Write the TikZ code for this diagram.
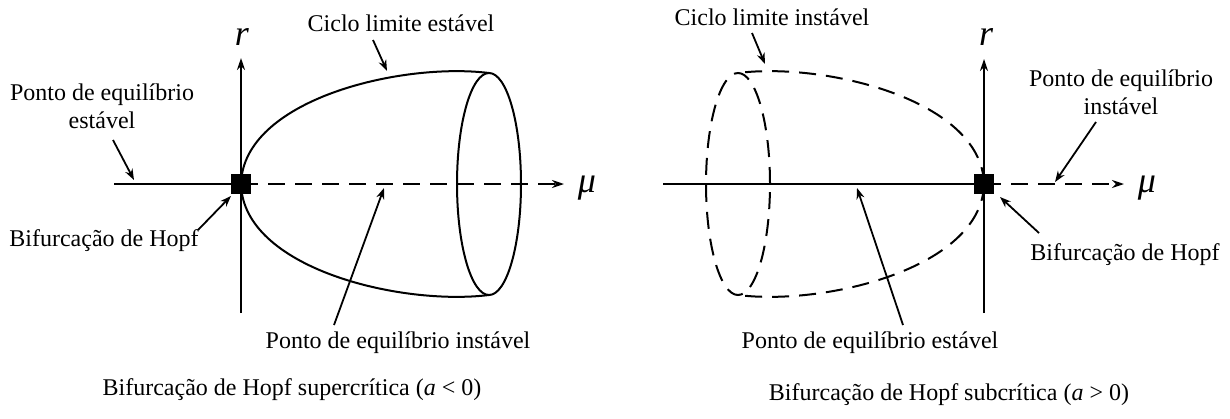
\documentclass[tikz,border=0pt]{standalone}
\usepackage{fontspec}
\setmainfont{Liberation Serif}
\usetikzlibrary{arrows.meta}
\begin{document}
\begin{tikzpicture}[x=1pt,y=-1pt,
  lbl/.style={font=\fontsize{24}{28}\selectfont, inner sep=0pt, align=center},
  axlbl/.style={font=\fontsize{36}{36}\selectfont\itshape, inner sep=0pt},
  ax/.style={line width=2pt, -{Stealth[length=12pt,width=8pt]}},
  ln/.style={line width=2pt},
  dsh/.style={line width=2pt, dash pattern=on 17pt off 10pt},
  ptr/.style={line width=1.8pt, -{Stealth[length=11pt,width=8pt]}},
  eq/.style={fill=black, minimum size=20pt, inner sep=0pt}]
\useasboundingbox (0,0) rectangle (1230,418);

% ---------------- Left: supercritical ----------------
\coordinate (L0) at (241,184);
\coordinate (Lrb) at (241,313);
\coordinate (Lrt) at (241,58);
\coordinate (Lml) at (114,184);
\coordinate (Lmr) at (564,184);
\coordinate (Ltop) at (489,73);
\coordinate (Lbot) at (489,295);

\draw[ax] (Lrb) -- (Lrt);
\draw[ln] (Lml) -- (L0);
\draw[dsh,-{Stealth[length=12pt,width=8pt]}] (L0) -- (Lmr);
\draw[ln] (L0) .. controls (243,100) and (400,62) .. (Ltop);
\draw[ln] (L0) .. controls (243,268) and (400,306) .. (Lbot);
\draw[ln] (489,184) ellipse [x radius=32pt, y radius=111pt];
\node[eq] (s1) at (L0) {};

\node[axlbl] (lr) at (242,37) {r};
\node[axlbl] (lmu) at (587,188) {μ};

\node[lbl] (lciclo) at (401,23) {Ciclo limite estável};
\coordinate (lciclot) at (373,40);
\coordinate (lcicloh) at (387,71);
\draw[ptr] (lciclot) -- (lcicloh);

\node[lbl] (lpe) at (102,106) {Ponto de equilíbrio\\estável};
\coordinate (lpet) at (113,140);
\coordinate (lpeh) at (134,180);
\draw[ptr] (lpet) -- (lpeh);

\node[lbl] (lbif) at (104,241) {Bifurcação de Hopf};
\coordinate (lbift) at (198,230);
\coordinate (lbifh) at (231,196);
\draw[ptr] (lbift) -- (lbifh);

\node[lbl] (lpi) at (398,343) {Ponto de equilíbrio instável};
\coordinate (lpit) at (334,325);
\coordinate (lpih) at (384,188);
\draw[ptr] (lpit) -- (lpih);

\node[lbl] (lcap) at (292,390) {Bifurcação de Hopf supercrítica (\textit{a} < 0)};

% ---------------- Right: subcritical ----------------
\coordinate (R0) at (984,184);
\coordinate (Rrb) at (984,313);
\coordinate (Rrt) at (984,59);
\coordinate (Rml) at (663,184);
\coordinate (Rmr) at (1124,184);
\coordinate (Rtop) at (738,73);
\coordinate (Rbot) at (738,295);

\draw[ax] (Rrb) -- (Rrt);
\draw[ln] (Rml) -- (R0);
\draw[dsh,-{Stealth[length=12pt,width=8pt]}] (R0) -- (Rmr);
\draw[dsh] (R0) .. controls (982,100) and (825,62) .. (Rtop);
\draw[dsh] (R0) .. controls (982,268) and (825,306) .. (Rbot);
\draw[dsh] (738,184) ellipse [x radius=32pt, y radius=111pt];
\node[eq] (s2) at (R0) {};

\node[axlbl] (rr) at (986,37) {r};
\node[axlbl] (rmu) at (1147,188) {μ};

\node[lbl] (rciclo) at (772,17) {Ciclo limite instável};
\coordinate (rciclot) at (752,33);
\coordinate (rcicloh) at (765,64);
\draw[ptr] (rciclot) -- (rcicloh);

\node[lbl] (rpi) at (1121,92) {Ponto de equilíbrio\\instável};
\coordinate (rpit) at (1096,122);
\coordinate (rpih) at (1055,182);
\draw[ptr] (rpit) -- (rpih);

\node[lbl] (rbif) at (1125,255) {Bifurcação de Hopf};
\coordinate (rbift) at (1039,233);
\coordinate (rbifh) at (1000,197);
\draw[ptr] (rbift) -- (rbifh);

\node[lbl] (rpe) at (870,343) {Ponto de equilíbrio estável};
\coordinate (rpet) at (903,325);
\coordinate (rpeh) at (857,188);
\draw[ptr] (rpet) -- (rpeh);

\node[lbl] (rcap) at (949,395) {Bifurcação de Hopf subcrítica (\textit{a} > 0)};
\end{tikzpicture}
\end{document}
